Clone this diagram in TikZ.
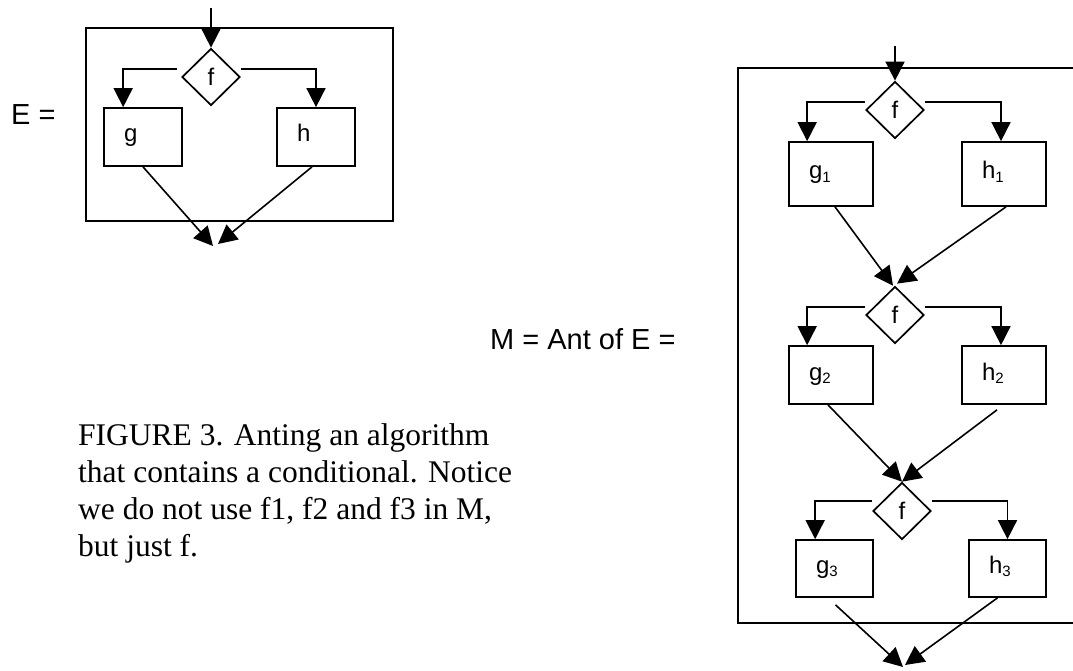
\documentclass[tikz,border=0pt]{standalone}
\usepackage{fontspec}
\setmainfont{Liberation Sans}
\newfontfamily\capfont{Liberation Serif}
\usetikzlibrary{arrows.meta,shapes.geometric}
\newcommand{\subno}[1]{\raisebox{-3pt}{\fontsize{15}{15}\selectfont #1}}

\begin{document}
\begin{tikzpicture}[
    x=1pt, y=-1pt,
    >={Triangle[length=19pt,width=19pt]},
    every node/.style={font=\fontsize{24}{28}\selectfont},
    dec/.style={
        draw,
        line width=1.7pt,
        shape=diamond,
        inner sep=0pt,
        minimum width=58pt,
        minimum height=57pt
    },
    proc/.style={
        draw,
        line width=1.7pt,
        inner xsep=20pt,
        inner ysep=0pt,
        text width=#1,
        align=left,
        text height=14pt,
        text depth=4pt
    },
    lbl/.style={anchor=base west, inner sep=0pt, font=\fontsize{29}{34}\selectfont},
    captxt/.style={anchor=base west, inner sep=0pt, font=\capfont\fontsize{31.5}{37}\selectfont},
    arr/.style={->, line width=1.6pt},
    frame/.style={line width=2pt}
]
    \useasboundingbox (0,0) rectangle (1073,671);

    % E
    \node[lbl] (lblE) at (11,125) {E =};
    \draw[frame] (86,28) rectangle (393,221);

    \coordinate (in0) at (211,8);
    \node[dec] (f0) at (211,77) {f};
    \node[proc=38pt, minimum height=58pt] (g0) at (143,137) {g};
    \node[proc=38pt, minimum height=58pt] (h0) at (316,137) {h};
    \coordinate (out0) at (215,246);

    \draw[arr] (in0) -- (f0.north);
    \draw[arr] ([xshift=-4pt,yshift=8pt]f0.west) -| ([xshift=20pt]g0.north west);
    \draw[arr] ([yshift=8pt]f0.east) -| (h0.north);
    \draw[arr] (g0.south) -- ([xshift=-2pt]out0);
    \draw[arr] ([xshift=-4pt]h0.south) -- ([xshift=3pt,yshift=2pt]out0);

    % M = Ant of E
    \node[lbl] (lblM) at (490,349) {M = Ant of E =};
    \draw[frame] (1090,68) -- (738,68) -- (738,623) -- (1090,623);

    \coordinate (in1) at (895,46);
    \node[dec] (f1) at (895,110) {f};
    \node[proc=44pt, minimum height=64pt] (g1) at (831,174) {g\subno{1}};
    \node[proc=44pt, minimum height=64pt] (h1) at (1004,174) {h\subno{1}};
    \node[dec] (f2) at (895,315) {f};
    \node[proc=44pt, minimum height=58pt] (g2) at (831,375) {g\subno{2}};
    \node[proc=44pt, minimum height=58pt] (h2) at (1004,375) {h\subno{2}};
    \node[dec] (f3) at (902,511) {f};
    \node[proc=37pt, minimum height=57pt] (g3) at (834.5,568.5) {g\subno{3}};
    \node[proc=37pt, minimum height=57pt] (h3) at (1007.5,568.5) {h\subno{3}};
    \coordinate (out1) at (904,667);

    \draw[arr] (in1) -- (f1.north);
    \draw[arr] ([yshift=8pt]f1.west) -| ([xshift=19pt]g1.north west);
    \draw[arr] ([yshift=8pt]f1.east) -| ([xshift=-3pt]h1.north);
    \draw[arr] ([xshift=4pt]g1.south) -- ([xshift=-2pt]f2.north);
    \draw[arr] ([xshift=2pt]h1.south) -- ([xshift=2pt,yshift=2pt]f2.north);

    \draw[arr] ([yshift=8pt]f2.west) -| ([xshift=19pt]g2.north west);
    \draw[arr] ([yshift=8pt]f2.east) -| ([xshift=-3pt]h2.north);
    \draw[arr] ([xshift=-3pt]g2.south) -- (f3.north);
    \draw[arr] ([xshift=-7pt,yshift=-5pt]h2.south) -- (f3.north);

    \draw[arr] ([yshift=10pt]f3.west) -| ([xshift=20pt]g3.north west);
    \draw[arr] ([yshift=10pt]f3.east) -| (h3.north);
    \draw[arr] ([xshift=1pt,yshift=-7pt]g3.south) -- ([xshift=-1pt]out1);
    \draw[arr] ([xshift=-10pt]h3.south) -- ([xshift=1pt,yshift=2pt]out1);

    % caption
    \node[captxt] (cap1) at (78,445) {FIGURE 3. Anting an algorithm};
    \node[captxt] (cap2) at (78,482) {that contains a conditional. Notice};
    \node[captxt] (cap3) at (78,519) {we do not use f1, f2 and f3 in M,};
    \node[captxt] (cap4) at (78,556) {but just f.};
\end{tikzpicture}
\end{document}
